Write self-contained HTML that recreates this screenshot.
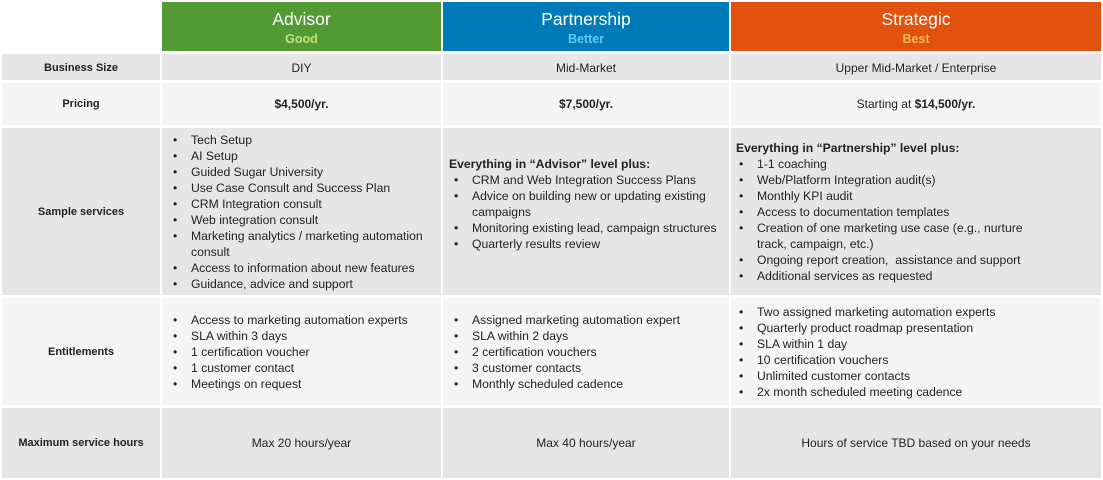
<!DOCTYPE html>
<html><head><meta charset="utf-8"><style>
body{margin:0;width:1103px;height:480px;background:#fff;position:relative;font-family:"Liberation Sans",sans-serif;font-size:12px;color:#222;overflow:hidden}
.c{position:absolute}
.t{position:absolute;line-height:16px;white-space:nowrap}
.ctr{text-align:center}
.b{font-weight:bold}
.lb{font-size:11px}
.li{font-size:12.2px}
ul{margin:0;padding:0;list-style:none}
li{position:relative;padding-left:18px}
li:before{content:"•";position:absolute;left:0}
.h1{font-size:17.5px;color:#fff;line-height:20px}
.h2{font-size:12.5px;font-weight:bold;line-height:16px}
</style></head><body>
<div class="c" style="left:162px;top:2px;width:279px;height:49px;background:#539a35"></div>
<div class="c" style="left:443px;top:2px;width:286px;height:49px;background:#007bba"></div>
<div class="c" style="left:731px;top:2px;width:370px;height:49px;background:#e2520f"></div>
<div class="t ctr h1" style="left:162px;top:9px;width:279px">Advisor</div>
<div class="t ctr h2" style="left:162px;top:31px;width:279px;color:#c6e17a">Good</div>
<div class="t ctr h1" style="left:443px;top:9px;width:286px">Partnership</div>
<div class="t ctr h2" style="left:443px;top:31px;width:286px;color:#5fcaf6">Better</div>
<div class="t ctr h1" style="left:731px;top:9px;width:370px">Strategic</div>
<div class="t ctr h2" style="left:731px;top:31px;width:370px;color:#f7b45c">Best</div>

<div class="c" style="left:2px;top:54px;width:158px;height:26px;background:#e6e6e6"></div>
<div class="c" style="left:162px;top:54px;width:279px;height:26px;background:#e6e6e6"></div>
<div class="c" style="left:443px;top:54px;width:286px;height:26px;background:#e6e6e6"></div>
<div class="c" style="left:731px;top:54px;width:370px;height:26px;background:#e6e6e6"></div>

<div class="c" style="left:2px;top:83px;width:158px;height:42px;background:#f5f5f5"></div>
<div class="c" style="left:162px;top:83px;width:279px;height:42px;background:#f5f5f5"></div>
<div class="c" style="left:443px;top:83px;width:286px;height:42px;background:#f5f5f5"></div>
<div class="c" style="left:731px;top:83px;width:370px;height:42px;background:#f5f5f5"></div>

<div class="c" style="left:2px;top:128px;width:158px;height:167px;background:#e6e6e6"></div>
<div class="c" style="left:162px;top:128px;width:279px;height:167px;background:#e6e6e6"></div>
<div class="c" style="left:443px;top:128px;width:286px;height:167px;background:#e6e6e6"></div>
<div class="c" style="left:731px;top:128px;width:370px;height:167px;background:#e6e6e6"></div>

<div class="c" style="left:2px;top:298px;width:158px;height:107px;background:#f5f5f5"></div>
<div class="c" style="left:162px;top:298px;width:279px;height:107px;background:#f5f5f5"></div>
<div class="c" style="left:443px;top:298px;width:286px;height:107px;background:#f5f5f5"></div>
<div class="c" style="left:731px;top:298px;width:370px;height:107px;background:#f5f5f5"></div>

<div class="c" style="left:2px;top:408px;width:158px;height:70px;background:#e6e6e6"></div>
<div class="c" style="left:162px;top:408px;width:279px;height:70px;background:#e6e6e6"></div>
<div class="c" style="left:443px;top:408px;width:286px;height:70px;background:#e6e6e6"></div>
<div class="c" style="left:731px;top:408px;width:370px;height:70px;background:#e6e6e6"></div>

<div class="t ctr b lb" style="left:2px;top:60px;width:158px">Business Size</div>
<div class="t ctr b lb" style="left:2px;top:96px;width:158px">Pricing</div>
<div class="t ctr b lb" style="left:2px;top:204px;width:158px">Sample services</div>
<div class="t ctr b lb" style="left:2px;top:344px;width:158px">Entitlements</div>
<div class="t ctr b lb" style="left:2px;top:435px;width:158px">Maximum service hours</div>

<div class="t ctr" style="left:162px;top:60px;width:279px">DIY</div>
<div class="t ctr" style="left:443px;top:60px;width:286px">Mid-Market</div>
<div class="t ctr" style="left:731px;top:60px;width:370px">Upper Mid-Market / Enterprise</div>

<div class="t ctr b" style="left:162px;top:96px;width:279px">$4,500/yr.</div>
<div class="t ctr b" style="left:443px;top:96px;width:286px">$7,500/yr.</div>
<div class="t ctr" style="left:731px;top:96px;width:370px">Starting at <b>$14,500/yr.</b></div>

<ul class="t li" style="left:173px;top:132px">
<li>Tech Setup</li><li>AI Setup</li><li>Guided Sugar University</li><li>Use Case Consult and Success Plan</li><li>CRM Integration consult</li><li>Web integration consult</li><li>Marketing analytics / marketing automation<br>consult</li><li>Access to information about new features</li><li>Guidance, advice and support</li>
</ul>
<div class="t li" style="left:449px;top:156px">
<div class="b">Everything in “Advisor” level plus:</div>
<ul style="margin-left:5px"><li>CRM and Web Integration Success Plans</li><li>Advice on building new or updating existing<br>campaigns</li><li>Monitoring existing lead, campaign structures</li><li>Quarterly results review</li></ul>
</div>
<div class="t li" style="left:736px;top:140px">
<div class="b">Everything in “Partnership” level plus:</div>
<ul style="margin-left:3px"><li>1-1 coaching</li><li>Web/Platform Integration audit(s)</li><li>Monthly KPI audit</li><li>Access to documentation templates</li><li>Creation of one marketing use case (e.g., nurture<br>track, campaign, etc.)</li><li>Ongoing report creation,&nbsp; assistance and support</li><li>Additional services as requested</li></ul>
</div>

<ul class="t li" style="left:173px;top:312px"><li>Access to marketing automation experts</li><li>SLA within 3 days</li><li>1 certification voucher</li><li>1 customer contact</li><li>Meetings on request</li></ul>
<ul class="t li" style="left:454px;top:312px"><li>Assigned marketing automation expert</li><li>SLA within 2 days</li><li>2 certification vouchers</li><li>3 customer contacts</li><li>Monthly scheduled cadence</li></ul>
<ul class="t li" style="left:739px;top:304px"><li>Two assigned marketing automation experts</li><li>Quarterly product roadmap presentation</li><li>SLA within 1 day</li><li>10 certification vouchers</li><li>Unlimited customer contacts</li><li>2x month scheduled meeting cadence</li></ul>

<div class="t ctr" style="left:162px;top:435px;width:279px">Max 20 hours/year</div>
<div class="t ctr" style="left:443px;top:435px;width:286px">Max 40 hours/year</div>
<div class="t ctr" style="left:731px;top:435px;width:370px">Hours of service TBD based on your needs</div>
</body></html>
